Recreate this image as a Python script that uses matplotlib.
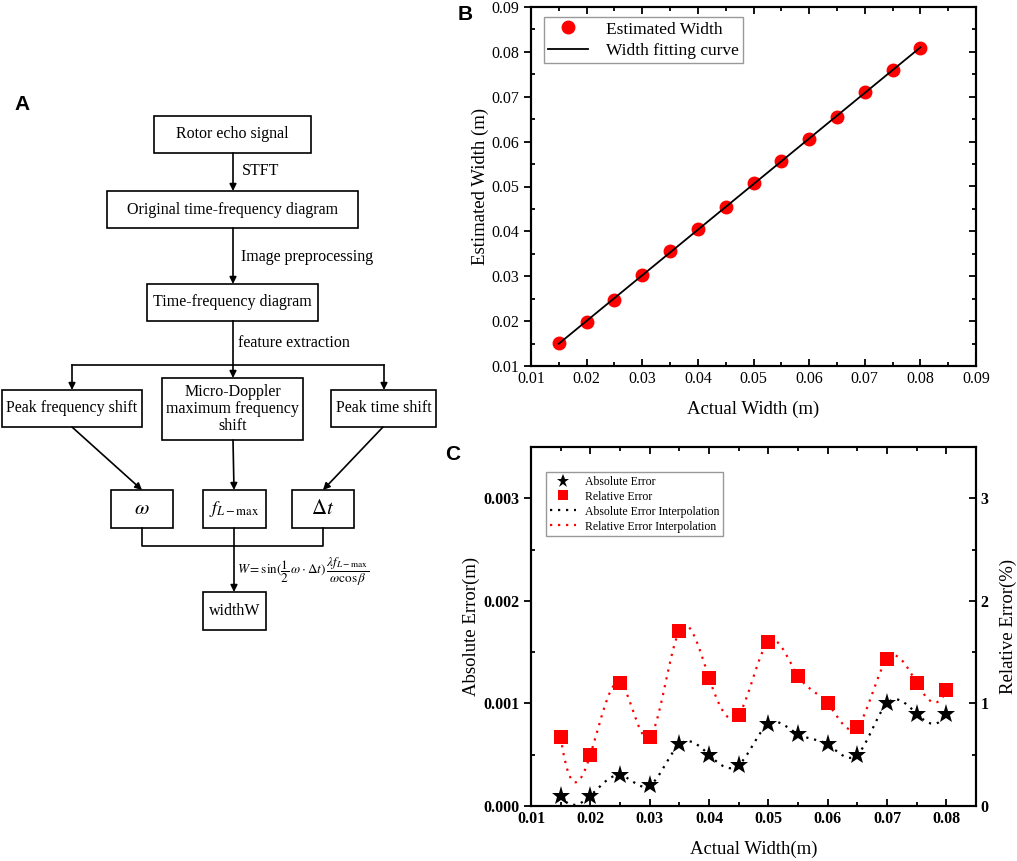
import numpy as np
import matplotlib
matplotlib.use("Agg")
import matplotlib.pyplot as plt
from matplotlib.patches import Rectangle

plt.rcParams['font.family'] = ['Liberation Serif', 'DejaVu Serif']
plt.rcParams['mathtext.fontset'] = 'stix'

# DATA

actual_width = [0.015, 0.020, 0.025, 0.030, 0.035, 0.040, 0.045,
                0.050, 0.055, 0.060, 0.065, 0.070, 0.075, 0.080]
estimated_width = [0.0151, 0.0199, 0.0247, 0.0302, 0.0356, 0.0405, 0.0454,
                   0.0508, 0.0557, 0.0606, 0.0655, 0.0710, 0.0759, 0.0809]
abs_error = [0.0001, 0.0001, 0.0003, 0.0002, 0.0006, 0.0005, 0.0004,
             0.0008, 0.0007, 0.0006, 0.0005, 0.0010, 0.0009, 0.0009]
rel_error = [0.67, 0.50, 1.20, 0.67, 1.71, 1.25, 0.89,
             1.60, 1.27, 1.00, 0.77, 1.43, 1.20, 1.13]

b_ticks = [0.01, 0.02, 0.03, 0.04, 0.05, 0.06, 0.07, 0.08, 0.09]
c_xticks = [0.01, 0.02, 0.03, 0.04, 0.05, 0.06, 0.07, 0.08]
c_left_ticks = [0.000, 0.001, 0.002, 0.003]
c_right_ticks = [0, 1, 2, 3]


def spline(x, y, xs):
    # cubic spline with not-a-knot ends, for the "Interpolation" curves
    x = np.asarray(x, float)
    y = np.asarray(y, float)
    n = len(x)
    h = np.diff(x)
    A = np.zeros((n, n))
    b = np.zeros(n)
    # not-a-knot: third derivative continuous at x[1] and x[n-2]
    A[0, 0], A[0, 1], A[0, 2] = 1 / h[0], -(1 / h[0] + 1 / h[1]), 1 / h[1]
    A[-1, -3], A[-1, -2], A[-1, -1] = 1 / h[-2], -(1 / h[-2] + 1 / h[-1]), 1 / h[-1]
    for i in range(1, n - 1):
        A[i, i - 1] = h[i - 1] / 6
        A[i, i] = (h[i - 1] + h[i]) / 3
        A[i, i + 1] = h[i] / 6
        b[i] = (y[i + 1] - y[i]) / h[i] - (y[i] - y[i - 1]) / h[i - 1]
    M = np.linalg.solve(A, b)
    idx = np.clip(np.searchsorted(x, xs) - 1, 0, n - 2)
    t = xs - x[idx]
    u = x[idx + 1] - xs
    hh = h[idx]
    return (M[idx] * u ** 3 / (6 * hh) + M[idx + 1] * t ** 3 / (6 * hh)
            + (y[idx] / hh - M[idx] * hh / 6) * u
            + (y[idx + 1] / hh - M[idx + 1] * hh / 6) * t)


W, H = 1017, 861
fig = plt.figure(figsize=(W / 100, H / 100), dpi=100)


# PANEL A  (flowchart, drawn in pixel space)

axA = fig.add_axes([0, 0, 1, 1])
axA.set_xlim(0, W)
axA.set_ylim(H, 0)
axA.axis('off')

boxes = {
    'rotor': ((154, 116, 311, 153), "Rotor echo signal"),
    'orig': ((107, 191, 358, 228), "Original time-frequency diagram"),
    'tf': ((147, 284, 318, 321), "Time-frequency diagram"),
    'pf': ((2, 390, 142, 427), "Peak frequency shift"),
    'md': ((162, 378, 303, 440), "Micro-Doppler\nmaximum frequency\nshift"),
    'pt': ((331, 390, 436, 427), "Peak time shift"),
    'w': ((111, 490, 173, 528), r"$\omega$"),
    'f': ((203, 490, 266, 528), r"$f_{L-\max}$"),
    'dt': ((292, 490, 354, 528), r"$\Delta t$"),
    'width': ((203, 592, 266, 630), "widthW"),
}
for key, ((x0, y0, x1, y1), txt) in boxes.items():
    axA.add_patch(Rectangle((x0, y0), x1 - x0, y1 - y0, fill=False,
                            edgecolor='black', lw=1.2))
    fs = 11.5
    if key in ('w', 'dt'):
        fs = 15
    elif key == 'f':
        fs = 13
    axA.text((x0 + x1) / 2, (y0 + y1) / 2, txt, ha='center', va='center',
             fontsize=fs, linespacing=1.05)


def arrow(x0, y0, x1, y1):
    axA.annotate("", xy=(x1, y1), xytext=(x0, y0),
                 arrowprops=dict(arrowstyle='-|>', color='black', lw=1.2,
                                 mutation_scale=10, shrinkA=0, shrinkB=0))


def line(xs, ys):
    axA.plot(xs, ys, color='black', lw=1.2)


arrow(233, 153, 233, 191)
arrow(233, 228, 233, 284)
line([233, 233], [321, 365])
line([72, 384], [365, 365])
arrow(72, 365, 72, 390)
arrow(384, 365, 384, 390)
arrow(233, 365, 233, 378)
arrow(72, 427, 142, 490)
arrow(233, 440, 234, 490)
arrow(383, 427, 323, 490)
line([142, 142, 323, 323], [528, 546, 546, 528])
arrow(234, 528, 234, 592)

axA.text(242, 171, "STFT", ha='left', va='center', fontsize=11.5)
axA.text(241, 257, "Image preprocessing", ha='left', va='center', fontsize=11.5)
axA.text(238, 343, "feature extraction", ha='left', va='center', fontsize=11.5)
axA.text(237, 572,
         r"$W=\sin(\dfrac{1}{2}\,\omega\cdot\Delta t)\,\dfrac{\lambda f_{L-\max}}{\omega\cos\beta}$",
         ha='left', va='center', fontsize=9.5)

for lab, x, y in [("A", 22, 105), ("B", 465, 14), ("C", 453, 454)]:
    axA.text(x, y, lab, ha='center', va='center', fontsize=15,
             fontweight='bold', family=['Liberation Sans', 'DejaVu Sans'])


def style_axes(ax):
    for s in ax.spines.values():
        s.set_linewidth(1.5)
    ax.tick_params(which='major', length=5, width=1.3)
    ax.tick_params(which='minor', length=3, width=1.3)


# PANEL B

axB = fig.add_axes([531 / W, 1 - 366 / H, 445 / W, 359 / H])
axB.plot(actual_width, estimated_width, 'o', color='red', ms=9,
         label='Estimated Width', zorder=3)
coef = np.polyfit(actual_width, estimated_width, 1)
xfit = np.array([actual_width[0], actual_width[-1]])
axB.plot(xfit, np.polyval(coef, xfit), color='black', lw=1.3,
         label='Width fitting curve', zorder=4)
axB.set_xlim(0.01, 0.09)
axB.set_ylim(0.01, 0.09)
axB.set_xticks(b_ticks)
axB.set_yticks(b_ticks)
axB.set_xticks(np.arange(0.015, 0.09, 0.01), minor=True)
axB.set_yticks(np.arange(0.015, 0.09, 0.01), minor=True)
axB.set_xticklabels([f"{t:.2f}" for t in b_ticks], fontsize=11.5)
axB.set_yticklabels([f"{t:.2f}" for t in b_ticks], fontsize=11.5)
style_axes(axB)
axB.tick_params(which='both', direction='in', top=True)
axB.tick_params(axis='y', which='major', direction='out')
axB.set_xlabel("Actual Width (m)", fontsize=13.5, labelpad=10)
axB.set_ylabel("Estimated Width (m)", fontsize=13.5, labelpad=2)
legB = axB.legend(loc='upper left', bbox_to_anchor=(0.029, 0.972),
                  fontsize=12.5, frameon=True, fancybox=False,
                  edgecolor='gray', borderaxespad=0, handlelength=2.3,
                  borderpad=0.25, labelspacing=0.3, handletextpad=1.0)
legB.get_frame().set_linewidth(1.0)

# right-hand ticks of B point inwards
axB2 = axB.twinx()
axB2.set_ylim(0.01, 0.09)
axB2.set_yticks(b_ticks)
axB2.set_yticks(np.arange(0.015, 0.09, 0.01), minor=True)
style_axes(axB2)
axB2.tick_params(which='both', direction='in', labelright=False)


# PANEL C

axC = fig.add_axes([531 / W, 1 - 806 / H, 445 / W, 359 / H])
axR = axC.twinx()
xs = np.linspace(actual_width[0], actual_width[-1], 400)
dots = (0, (1, 2.6))

h1, = axC.plot(actual_width, abs_error, '*', color='black', ms=14,
               mew=0, zorder=4, label='Absolute Error')
h3, = axC.plot(xs, spline(actual_width, abs_error, xs), color='black',
               lw=1.6, linestyle=dots, zorder=3,
               label='Absolute Error Interpolation')
h2, = axR.plot(actual_width, rel_error, 's', color='red', ms=9.5, mew=0,
               zorder=4, label='Relative Error')
h4, = axR.plot(xs, spline(actual_width, rel_error, xs), color='red',
               lw=1.6, linestyle=dots, zorder=3,
               label='Relative Error Interpolation')

axC.set_xlim(0.01, 0.085)
axC.set_ylim(0, 0.0035)
axR.set_ylim(0, 3.5)
axC.set_xticks(c_xticks)
axC.set_xticks(np.arange(0.015, 0.085, 0.01), minor=True)
axC.set_yticks(c_left_ticks)
axC.set_yticks([0.0005, 0.0015, 0.0025], minor=True)
axR.set_yticks(c_right_ticks)
axR.set_yticks([0.5, 1.5, 2.5], minor=True)
axC.set_xticklabels([f"{t:.2f}" for t in c_xticks], fontsize=11.5,
                    fontweight='bold')
axC.set_yticklabels([f"{t:.3f}" for t in c_left_ticks], fontsize=11.5,
                    fontweight='bold')
axR.set_yticklabels([str(t) for t in c_right_ticks], fontsize=11.5,
                    fontweight='bold')
style_axes(axC)
style_axes(axR)
axC.tick_params(axis='x', which='both', direction='in', top=True)
axC.tick_params(axis='y', which='major', direction='out')
axC.tick_params(axis='y', which='minor', direction='in')
axR.tick_params(axis='y', which='both', direction='in')
axC.set_xlabel("Actual Width(m)", fontsize=13.5, labelpad=10)
axC.set_ylabel("Absolute Error(m)", fontsize=13.5, labelpad=2)
axR.set_ylabel("Relative Error(%)", fontsize=13.5, labelpad=8)

legC = axR.legend(handles=[h1, h2, h3, h4], loc='upper left',
                  bbox_to_anchor=(0.034, 0.930), fontsize=8.5, frameon=True,
                  fancybox=False, edgecolor='gray', borderaxespad=0,
                  handlelength=2.2, borderpad=0.3, labelspacing=0.25,
                  handletextpad=0.8, markerscale=0.7)
legC.get_frame().set_linewidth(1.0)

fig.savefig("out.png", dpi=100)
